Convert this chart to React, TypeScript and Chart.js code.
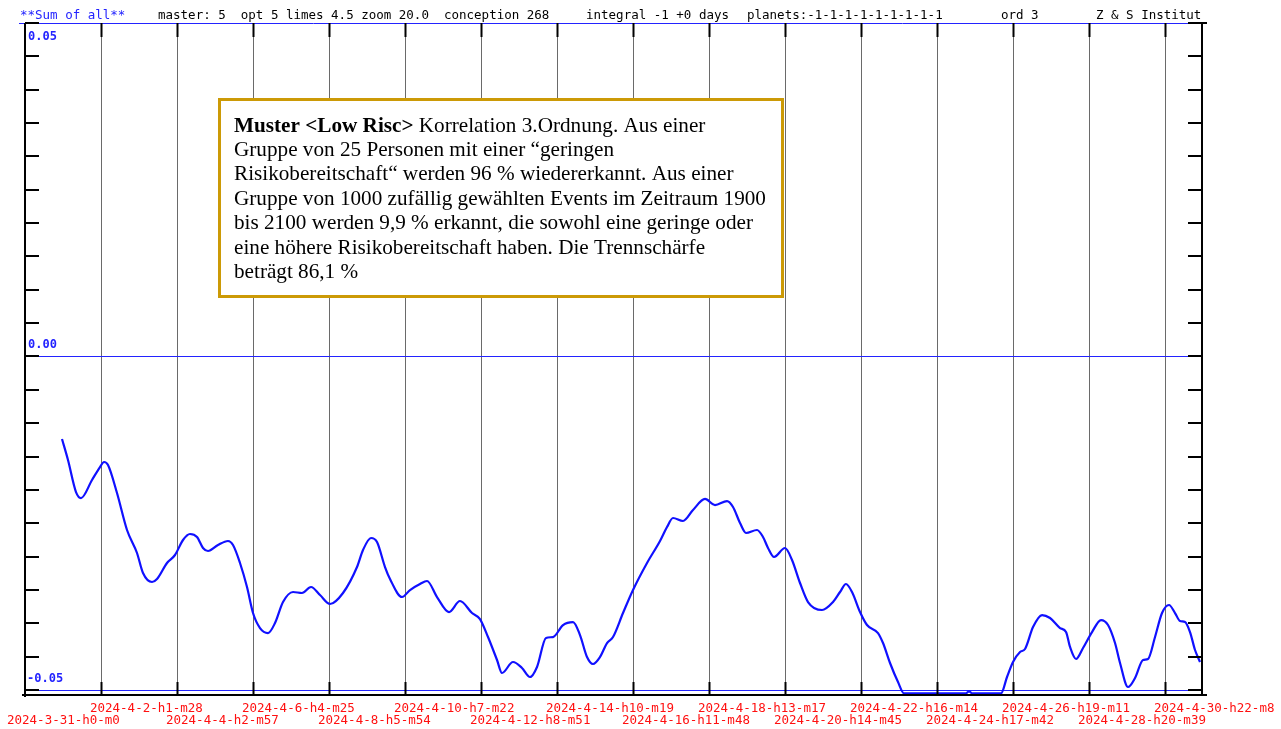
import { useEffect, useRef } from 'react';
import { Chart, registerables } from 'chart.js';

Chart.register(...registerables);

// ---------- data ----------
const TICK_LABELS = [
  '2024-3-31-h0-m0', '2024-4-2-h1-m28', '2024-4-4-h2-m57', '2024-4-6-h4-m25',
  '2024-4-8-h5-m54', '2024-4-10-h7-m22', '2024-4-12-h8-m51', '2024-4-14-h10-m19',
  '2024-4-16-h11-m48', '2024-4-18-h13-m17', '2024-4-20-h14-m45', '2024-4-22-h16-m14',
  '2024-4-24-h17-m42', '2024-4-26-h19-m11', '2024-4-28-h20-m39', '2024-4-30-h22-m8',
];

const Y_LABELS = ['0.05', '0.00', '-0.05'];
const Y_LABEL_VALUES = [0.05, 0, -0.05];
const Y_MIN = -0.05075;
const Y_MAX = 0.05;
const Y_TICK_STEP = 0.005;
const X_MAX_HOURS = 766.2;

// hours since 2024-3-31 00:00
const SERIES_HOURS = [
  24.09, 27.99, 33.2, 36.46, 43.62, 48.82, 51.43, 54.03, 59.89, 66.4,
  72.91, 76.82, 82.68, 85.93, 92.44, 97.65, 102.86, 107.41, 111.97, 115.88,
  119.13, 125.64, 132.15, 135.41, 139.96, 144.52, 148.43, 152.98, 158.19, 162.75,
  167.96, 174.47, 180.32, 186.18, 192.04, 198.55, 207.01, 216.13, 220.03, 225.24,
  229.15, 234.36, 237.61, 245.42, 250.63, 257.14, 261.7, 268.21, 276.02, 283.18,
  290.99, 296.2, 301.41, 307.27, 310.52, 317.68, 323.54, 328.75, 333.31, 339.17,
  343.72, 350.23, 356.74, 361.3, 365.86, 369.76, 374.32, 378.88, 382.78, 389.29,
  395.8, 404.92, 413.38, 417.94, 421.84, 428.35, 434.86, 442.67, 449.18, 457.0,
  460.9, 465.46, 469.36, 476.52, 480.43, 483.69, 487.59, 494.75, 499.31, 504.52,
  509.72, 518.84, 526.0, 530.56, 534.46, 538.37, 543.58, 548.13, 555.29, 558.55,
  563.11, 568.31, 572.22, 589.15, 608.68, 612.58, 614.53, 616.49, 635.37, 639.27,
  643.18, 647.74, 650.99, 656.2, 662.06, 667.27, 673.78, 677.68, 680.29, 684.19,
  688.75, 694.61, 700.47, 705.02, 709.58, 712.84, 718.04, 722.6, 727.81, 731.07,
  735.62, 740.18, 744.73, 748.64, 751.89, 755.15, 758.4, 761.66, 764.91,
];

const SERIES_VALUES = [
  -0.01237, -0.01552, -0.02032, -0.02122, -0.01852, -0.01657, -0.01582, -0.01627, -0.02047, -0.02601,
  -0.02946, -0.03246, -0.03381, -0.03336, -0.03096, -0.02976, -0.02751, -0.02661, -0.02706, -0.02871,
  -0.02916, -0.02826, -0.02766, -0.02826, -0.03096, -0.03456, -0.03846, -0.04071, -0.04146, -0.03996,
  -0.03681, -0.03531, -0.03546, -0.03456, -0.03576, -0.03711, -0.03546, -0.03156, -0.02901, -0.02721,
  -0.02781, -0.03156, -0.03336, -0.03606, -0.03501, -0.03411, -0.03366, -0.03606, -0.03831, -0.03666,
  -0.03846, -0.03936, -0.04206, -0.0455, -0.04745, -0.0458, -0.0467, -0.04805, -0.04655, -0.0422,
  -0.04206, -0.04026, -0.03981, -0.04176, -0.04505, -0.0461, -0.04505, -0.04296, -0.04206, -0.03846,
  -0.03501, -0.03096, -0.02766, -0.02556, -0.02421, -0.02466, -0.02301, -0.02136, -0.02227, -0.02167,
  -0.02256, -0.02496, -0.02646, -0.02601, -0.02706, -0.02871, -0.03006, -0.02871, -0.03051, -0.03396,
  -0.03681, -0.03801, -0.03681, -0.03531, -0.03411, -0.03531, -0.03831, -0.04026, -0.04146, -0.04296,
  -0.04595, -0.0488, -0.0505, -0.0505, -0.0505, -0.0505, -0.0502, -0.0505, -0.0505, -0.04805,
  -0.0458, -0.0443, -0.04385, -0.04056, -0.03876, -0.03921, -0.04071, -0.04131, -0.04355, -0.04535,
  -0.0437, -0.04131, -0.03951, -0.04026, -0.04296, -0.04595, -0.04955, -0.0482, -0.0455, -0.04535,
  -0.04206, -0.03846, -0.03726, -0.03846, -0.03966, -0.03981, -0.04131, -0.044, -0.0458,
];

const HEADER_TITLE = '**Sum of all**';
const HEADER_PARTS = [
  'master: 5  opt 5 limes 4.5 zoom 20.0  conception 268',
  'integral -1 +0 days',
  'planets:-1-1-1-1-1-1-1-1-1',
  'ord 3',
  'Z & S Institut',
];

const BOX_BOLD = 'Muster <Low Risc>';
const BOX_LINES = [
  ' Korrelation 3.Ordnung. Aus einer',
  'Gruppe von 25 Personen mit einer \u201Cgeringen',
  'Risikobereitschaft\u201C werden 96 % wiedererkannt. Aus einer',
  'Gruppe von 1000 zuf\u00E4llig gew\u00E4hlten Events im Zeitraum 1900',
  'bis 2100 werden 9,9 % erkannt, die sowohl eine geringe oder',
  'eine h\u00F6here Risikobereitschaft haben. Die Trennsch\u00E4rfe',
  'betr\u00E4gt 86,1 %',
];

// ---------- helpers ----------
const START = Date.UTC(2024, 2, 31, 0, 0);
function labelToHours(l: string): number {
  const p = l.split('-');
  const y = +p[0], m = +p[1], d = +p[2];
  const h = +p[3].slice(1), mi = +p[4].slice(1);
  return (Date.UTC(y, m - 1, d, h, mi) - START) / 3600000;
}
const TICK_HOURS = TICK_LABELS.map(labelToHours);

const BLUE = '#2323ff';
const MONO = '"DejaVu Sans Mono", monospace';

const framePlugin = {
  id: 'frame',
  beforeDatasetsDraw(chart: any) {
    const { ctx, chartArea: a, scales } = chart;
    const x = scales.x, y = scales.y;
    ctx.save();
    // vertical grid lines
    ctx.strokeStyle = '#6a6a6a';
    ctx.lineWidth = 1;
    TICK_HOURS.forEach((h, i) => {
      if (i === 0) return;
      const px = Math.round(x.getPixelForValue(h)) + 0.5;
      ctx.beginPath();
      ctx.moveTo(px, a.top);
      ctx.lineTo(px, a.bottom);
      ctx.stroke();
    });
    // blue horizontal lines
    ctx.strokeStyle = BLUE;
    Y_LABEL_VALUES.forEach((v, i) => {
      const py = Math.round(y.getPixelForValue(v)) + 0.5;
      ctx.beginPath();
      ctx.moveTo(i === 0 ? a.left - 6 : a.left, py);
      ctx.lineTo(a.right - 5, py);
      ctx.stroke();
    });
    ctx.restore();
  },
  afterDraw(chart: any) {
    const { ctx, chartArea: a, scales } = chart;
    const x = scales.x, y = scales.y;
    ctx.save();
    ctx.strokeStyle = '#000';
    ctx.lineWidth = 2;
    const seg = (x1: number, y1: number, x2: number, y2: number) => {
      ctx.beginPath();
      ctx.moveTo(x1, y1);
      ctx.lineTo(x2, y2);
      ctx.stroke();
    };
    const top = Math.round(y.getPixelForValue(Y_MAX));
    const bottom = a.bottom;
    const left = a.left, right = a.right;
    // axes
    seg(left, top, left, bottom + 2);
    seg(left - 3, bottom, right + 5, bottom);
    seg(right, top - 1, right, bottom);
    seg(right - 14, top, right + 5, top);
    // y ticks both sides
    for (let v = -0.05; v <= 0.05 + 1e-9; v += Y_TICK_STEP) {
      const py = Math.round(y.getPixelForValue(v));
      seg(left, py, left + 14, py);
      seg(right - 14, py, right, py);
    }
    // x ticks top & bottom
    TICK_HOURS.forEach((h, i) => {
      if (i === 0) return;
      const px = Math.round(x.getPixelForValue(h)) + 0.5;
      seg(px, top, px, top + 14);
      seg(px, bottom - 13, px, bottom);
    });
    // y labels
    ctx.font = `bold 12px ${MONO}`;
    ctx.fillStyle = BLUE;
    ctx.textBaseline = 'middle';
    ctx.textAlign = 'left';
    const yLabelDy = [14, -12, -11];
    Y_LABELS.forEach((l, i) => {
      const py = y.getPixelForValue(Y_LABEL_VALUES[i]) + yLabelDy[i];
      ctx.fillText(l, left + (l.startsWith('-') ? 2 : 3), py);
    });
    // x labels
    ctx.font = `12.5px ${MONO}`;
    ctx.fillStyle = '#ff1010';
    TICK_LABELS.forEach((l, i) => {
      const px = x.getPixelForValue(TICK_HOURS[i]);
      const row = i % 2 === 1 ? 709 : 721;
      ctx.fillText(l, i === 0 ? px - 18 : px - 11, row);
    });
    // header
    ctx.font = `12.5px ${MONO}`;
    ctx.fillStyle = BLUE;
    ctx.fillText(HEADER_TITLE, 20, 15.5);
    ctx.fillStyle = '#000';
    const hx = [158, 586, 747, 1001, 1096];
    HEADER_PARTS.forEach((t, i) => ctx.fillText(t, hx[i], 15.5));
    // text box
    const bx = 219.5, by = 99.5, bw = 563, bh = 197;
    ctx.fillStyle = '#fff';
    ctx.fillRect(bx, by, bw, bh);
    ctx.strokeStyle = '#cc9a06';
    ctx.lineWidth = 3;
    ctx.strokeRect(bx, by, bw, bh);
    ctx.fillStyle = '#000';
    ctx.textBaseline = 'alphabetic';
    const serif = '"Liberation Serif", "Times New Roman", serif';
    const fs = 21.2;
    const tx = 234;
    BOX_LINES.forEach((t, i) => {
      const base = 131.5 + i * 24.4;
      if (i === 0) {
        ctx.font = `bold ${fs}px ${serif}`;
        ctx.fillText(BOX_BOLD, tx, base);
        const w = ctx.measureText(BOX_BOLD).width;
        ctx.font = `${fs}px ${serif}`;
        ctx.fillText(t, tx + w, base);
      } else {
        ctx.font = `${fs}px ${serif}`;
        ctx.fillText(t, tx, base);
      }
    });
    ctx.restore();
  },
};

export default function App() {
  const ref = useRef<HTMLCanvasElement | null>(null);
  useEffect(() => {
    if (!ref.current) return;
    const points = SERIES_HOURS.map((h, i) => ({ x: h, y: SERIES_VALUES[i] }));
    const chart = new Chart(ref.current, {
      type: 'line',
      data: {
        datasets: [
          {
            data: points,
            borderColor: '#1010ff',
            borderWidth: 2.2,
            pointRadius: 0,
            cubicInterpolationMode: 'monotone',
            fill: false,
          },
        ],
      },
      options: {
        animation: false,
        responsive: false,
        devicePixelRatio: 1,
        layout: { padding: { left: 25, right: 79, top: 23, bottom: 34 } },
        scales: {
          x: { type: 'linear', min: 0, max: X_MAX_HOURS, display: false },
          y: { type: 'linear', min: Y_MIN, max: Y_MAX, display: false },
        },
        plugins: { legend: { display: false }, tooltip: { enabled: false } },
      },
      plugins: [framePlugin],
    } as any);
    return () => chart.destroy();
  }, []);
  return (
    <div style={{ position: 'fixed', left: 0, top: 0, width: 1281, height: 729, background: '#fff' }}>
      <canvas ref={ref} width={1281} height={729} style={{ display: 'block' }} />
    </div>
  );
}
